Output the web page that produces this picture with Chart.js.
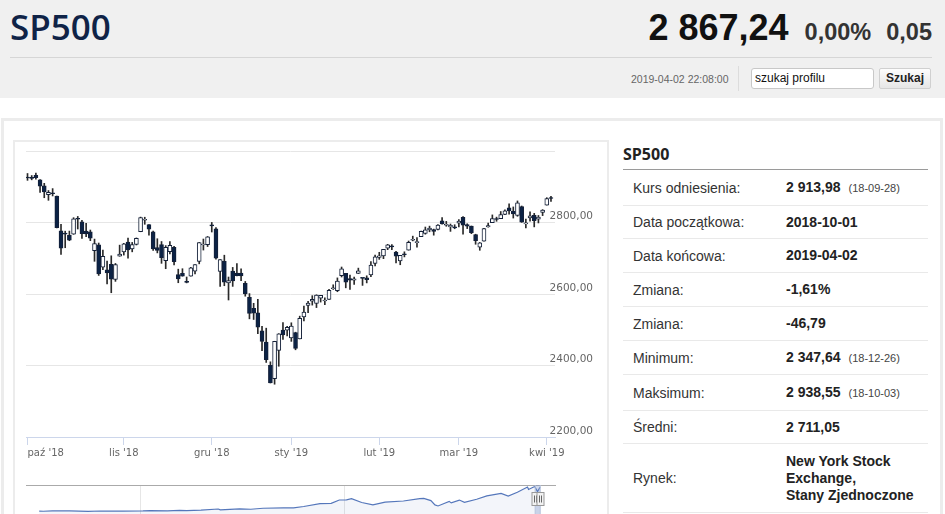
<!DOCTYPE html>
<html><head><meta charset="utf-8">
<script src="https://cdn.jsdelivr.net/npm/chart.js@4.4.0/dist/chart.umd.min.js"></script>
<style>
html,body{margin:0;padding:0;background:#fff;width:945px;height:514px;overflow:hidden;font-family:"Liberation Sans",Arial,sans-serif;}
#hdr{position:absolute;left:0;top:0;width:945px;height:98px;background:#f0f0f0;}
#title{position:absolute;left:10px;top:3px;font-family:"Open Sans";font-weight:600;font-size:35px;color:#0f2347;line-height:48px;}
#hline{position:absolute;left:10px;top:57px;width:922px;height:1px;background:#d6d6d6;}
#quote{position:absolute;right:13px;top:4px;display:flex;align-items:baseline;white-space:nowrap;line-height:48px;}
.big{font-weight:bold;font-size:36px;color:#111;}
.pct{font-weight:bold;font-size:23.5px;color:#333;margin-left:16px;}
.chg{font-weight:bold;font-size:23.5px;color:#333;margin-left:15px;}
#time{position:absolute;left:631px;top:73px;font-size:10.5px;color:#666;line-height:12px;}
#sep{position:absolute;left:738px;top:66px;width:1px;height:25px;background:#dcdcdc;}
#search{position:absolute;left:751px;top:68px;width:123px;height:21px;box-sizing:border-box;border:1px solid #c8c8c8;border-radius:3px;background:#fff;font-size:12px;padding-left:3px;line-height:19px;color:#111;}
#btn{position:absolute;left:879px;top:68px;width:52px;height:21px;box-sizing:border-box;border:1px solid #d0d0d0;border-radius:2px;background:linear-gradient(#fdfdfd,#e6e6e6);font-weight:bold;font-size:12px;text-align:center;line-height:19px;color:#222;}
#frame{position:absolute;left:1px;top:118px;width:936px;height:420px;border:3px solid #ececec;background:#fff;}
#chartbox{position:absolute;left:13px;top:140px;width:592px;height:400px;border:2px solid #ececec;}
canvas{position:absolute;}
#info{position:absolute;left:623px;top:141px;width:305px;}
#info .ttl{height:28px;border-bottom:1px solid #9a9a9a;font-family:"Open Sans";font-weight:bold;font-size:16px;color:#222;line-height:26px;}
.row{display:flex;align-items:center;box-sizing:border-box;border-bottom:1px solid #e9e9e9;font-size:14px;color:#333;}
.row .l{width:153px;padding-left:10px;}
.row .v{font-weight:bold;color:#222;line-height:17px;}
.row .s{font-size:11px;color:#444;margin-left:8px;font-weight:normal;}
</style></head>
<body>
<div id="hdr">
  <div id="title">SP500</div>
  <div id="quote"><span class="big">2 867,24</span><span class="pct">0,00%</span><span class="chg">0,05</span></div>
  <div id="hline"></div>
  <div id="time">2019-04-02 22:08:00</div>
  <div id="sep"></div>
  <div id="search">szukaj profilu</div>
  <div id="btn">Szukaj</div>
</div>
<div id="frame"></div>
<div id="chartbox"></div>
<canvas id="main" width="594" height="330" style="left:13px;top:141px;width:594px;height:330px"></canvas>
<canvas id="nav" width="594" height="50" style="left:13px;top:470px;width:594px;height:50px"></canvas>
<div id="info">
  <div class="ttl">SP500</div>
  <div class="row" style="height:36px"><span class="l">Kurs odniesienia:</span><span class="v">2 913,98<span class="s">(18-09-28)</span></span></div>
  <div class="row" style="height:33px"><span class="l">Data początkowa:</span><span class="v">2018-10-01</span></div>
  <div class="row" style="height:34px"><span class="l">Data końcowa:</span><span class="v">2019-04-02</span></div>
  <div class="row" style="height:34px"><span class="l">Zmiana:</span><span class="v">-1,61%</span></div>
  <div class="row" style="height:34px"><span class="l">Zmiana:</span><span class="v">-46,79</span></div>
  <div class="row" style="height:34px"><span class="l">Minimum:</span><span class="v">2 347,64<span class="s">(18-12-26)</span></span></div>
  <div class="row" style="height:36px"><span class="l">Maksimum:</span><span class="v">2 938,55<span class="s">(18-10-03)</span></span></div>
  <div class="row" style="height:33px"><span class="l">Średni:</span><span class="v">2 711,05</span></div>
  <div class="row" style="height:69px"><span class="l">Rynek:</span><span class="v">New York Stock<br>Exchange,<br>Stany Zjednoczone</span></div>
</div>
<script>
const dates = [
"2018-10-01","2018-10-02","2018-10-03","2018-10-04","2018-10-05","2018-10-08","2018-10-09","2018-10-10","2018-10-11","2018-10-12","2018-10-15","2018-10-16","2018-10-17","2018-10-18","2018-10-19","2018-10-22","2018-10-23","2018-10-24","2018-10-25","2018-10-26","2018-10-29","2018-10-30","2018-10-31",
"2018-11-01","2018-11-02","2018-11-05","2018-11-06","2018-11-07","2018-11-08","2018-11-09","2018-11-12","2018-11-13","2018-11-14","2018-11-15","2018-11-16","2018-11-19","2018-11-20","2018-11-21","2018-11-23","2018-11-26","2018-11-27","2018-11-28","2018-11-29","2018-11-30",
"2018-12-03","2018-12-04","2018-12-06","2018-12-07","2018-12-10","2018-12-11","2018-12-12","2018-12-13","2018-12-14","2018-12-17","2018-12-18","2018-12-19","2018-12-20","2018-12-21","2018-12-24","2018-12-26","2018-12-27","2018-12-28","2018-12-31",
"2019-01-02","2019-01-03","2019-01-04","2019-01-07","2019-01-08","2019-01-09","2019-01-10","2019-01-11","2019-01-14","2019-01-15","2019-01-16","2019-01-17","2019-01-18","2019-01-22","2019-01-23","2019-01-24","2019-01-25","2019-01-28","2019-01-29","2019-01-30","2019-01-31",
"2019-02-01","2019-02-04","2019-02-05","2019-02-06","2019-02-07","2019-02-08","2019-02-11","2019-02-12","2019-02-13","2019-02-14","2019-02-15","2019-02-19","2019-02-20","2019-02-21","2019-02-22","2019-02-25","2019-02-26","2019-02-27","2019-02-28",
"2019-03-01","2019-03-04","2019-03-05","2019-03-06","2019-03-07","2019-03-08","2019-03-11","2019-03-12","2019-03-13","2019-03-14","2019-03-15","2019-03-18","2019-03-19","2019-03-20","2019-03-21","2019-03-22","2019-03-25","2019-03-26","2019-03-27","2019-03-28","2019-03-29",
"2019-04-01","2019-04-02"];
const open = [
2926.29,2923.80,2931.69,2919.35,2902.54,2877.53,2882.51,2873.90,2776.87,2770.54,2763.83,2767.05,2811.67,2802.00,2775.66,2773.94,2721.03,2737.87,2674.88,2667.86,2682.65,2640.68,2705.60,
2717.58,2745.45,2726.37,2738.40,2774.13,2806.38,2794.10,2773.93,2730.05,2737.90,2693.52,2718.54,2730.74,2654.60,2657.74,2633.36,2649.97,2663.75,2691.45,2736.97,2737.76,
2790.50,2782.43,2663.51,2691.26,2630.86,2664.44,2658.23,2658.70,2629.68,2590.75,2559.90,2547.05,2496.77,2465.38,2400.56,2363.12,2442.50,2498.77,2498.94,
2476.96,2491.92,2474.33,2535.61,2568.11,2580.00,2573.51,2588.11,2580.31,2585.10,2614.75,2609.28,2651.27,2657.88,2643.48,2638.84,2657.44,2644.97,2644.89,2653.62,2685.49,
2702.32,2706.49,2728.34,2735.05,2717.53,2692.36,2712.40,2722.61,2750.30,2743.50,2760.24,2769.28,2779.05,2780.24,2780.67,2804.35,2792.36,2787.50,2788.11,
2798.22,2814.37,2794.41,2790.27,2766.53,2730.79,2747.61,2787.34,2799.78,2810.38,2810.79,2822.61,2840.76,2831.34,2819.72,2844.52,2796.01,2812.66,2819.72,2809.40,2828.27,
2848.63,2868.24];
const high = [
2937.06,2931.42,2938.55,2919.78,2909.64,2889.45,2894.83,2874.02,2795.14,2775.77,2775.99,2813.46,2816.94,2806.04,2797.77,2778.94,2753.59,2742.59,2722.70,2692.38,2706.85,2685.43,2736.69,
2741.67,2756.55,2744.27,2756.82,2815.15,2814.75,2794.10,2775.99,2754.60,2746.80,2735.38,2746.75,2733.16,2669.44,2670.73,2647.55,2674.35,2682.53,2744.00,2753.75,2760.88,
2800.18,2785.93,2696.15,2708.54,2647.51,2674.35,2685.44,2670.19,2635.07,2601.13,2573.99,2585.29,2509.63,2504.41,2410.34,2467.76,2489.10,2520.27,2509.24,
2519.49,2493.14,2538.07,2566.16,2579.82,2595.32,2597.82,2596.27,2589.32,2613.08,2625.76,2645.06,2675.47,2657.88,2653.19,2647.20,2672.38,2644.97,2650.93,2690.44,2708.95,
2716.66,2724.99,2738.98,2738.08,2719.32,2708.07,2718.05,2748.19,2761.85,2757.90,2775.66,2787.33,2789.88,2781.58,2794.20,2813.49,2803.12,2795.76,2793.73,
2808.02,2816.88,2796.44,2790.27,2767.25,2744.13,2784.00,2798.32,2821.24,2815.00,2830.73,2835.41,2852.42,2843.54,2860.31,2846.16,2809.79,2829.87,2825.56,2819.71,2836.03,
2869.40,2872.90];
const low = [
2917.91,2919.37,2921.36,2883.92,2869.29,2862.08,2874.27,2784.86,2710.51,2729.44,2749.03,2766.91,2781.81,2755.18,2760.27,2749.22,2691.43,2651.89,2667.84,2628.16,2603.54,2635.34,2705.60,
2708.85,2700.44,2717.94,2737.08,2774.13,2794.99,2764.24,2722.00,2714.98,2685.75,2670.75,2712.16,2681.09,2631.52,2649.82,2631.09,2649.97,2655.89,2684.38,2722.94,2732.76,
2773.38,2697.18,2621.53,2623.14,2583.23,2621.30,2650.26,2637.27,2593.84,2530.54,2528.71,2488.96,2441.18,2408.55,2351.10,2347.64,2397.94,2472.89,2482.82,
2467.47,2443.96,2474.33,2524.56,2547.56,2568.89,2562.02,2577.40,2570.41,2585.10,2612.68,2606.36,2647.58,2617.27,2612.86,2627.01,2657.33,2624.06,2631.05,2648.34,2678.65,
2696.88,2698.75,2724.03,2724.15,2687.26,2681.83,2703.79,2722.61,2748.63,2731.23,2760.24,2767.29,2774.06,2764.55,2779.11,2794.99,2789.47,2775.13,2782.51,
2787.38,2767.66,2782.97,2768.69,2739.09,2722.27,2747.61,2786.73,2799.78,2803.46,2810.79,2821.99,2823.27,2812.43,2817.38,2800.47,2785.02,2803.99,2787.72,2798.77,2819.23,
2848.63,2858.75];
const close = [
2924.59,2923.43,2925.51,2901.61,2885.57,2884.43,2880.34,2785.68,2728.37,2767.13,2750.79,2809.92,2809.21,2768.78,2767.78,2755.88,2740.69,2656.10,2705.57,2658.69,2641.25,2682.63,2711.74,
2740.37,2723.06,2738.31,2755.45,2813.89,2806.83,2781.01,2726.22,2722.18,2701.58,2730.20,2736.27,2690.73,2641.89,2649.93,2632.56,2673.45,2682.17,2743.79,2737.80,2760.17,
2790.37,2700.06,2695.95,2633.08,2637.72,2636.78,2651.07,2650.54,2599.95,2545.94,2546.16,2506.96,2467.42,2416.62,2351.10,2467.70,2488.83,2485.74,2506.85,
2510.03,2447.89,2531.94,2549.69,2574.41,2584.96,2596.64,2596.26,2582.61,2610.30,2616.10,2635.96,2670.71,2632.90,2638.70,2642.33,2664.76,2643.85,2640.00,2681.05,2704.10,
2706.53,2724.87,2737.70,2731.61,2706.05,2707.88,2709.80,2744.73,2753.03,2745.73,2775.60,2779.76,2784.70,2774.88,2792.67,2796.11,2793.90,2792.38,2784.49,
2803.69,2792.81,2789.65,2771.45,2748.93,2743.07,2783.30,2791.52,2810.92,2808.48,2822.48,2832.94,2832.57,2824.23,2854.88,2800.71,2798.36,2818.46,2805.37,2815.44,2834.40,
2867.19,2867.24];
const monthLabels = ["paź '18","lis '18","gru '18","sty '19","lut '19","mar '19","kwi '19"];
const monthStarts = ["2018-10-01","2018-11-01","2018-12-03","2019-01-02","2019-02-01","2019-03-01","2019-04-01"];
const yTicks = [2200,2400,2600,2800,3000];
const navYears  = [1970.0,1970.4,1971.3,1973.0,1974.8,1976.0,1978.2,1980.2,1980.9,1982.6,1983.8,1984.5,1985.9,1987.6,1987.8,1989.7,1990.8,1992.0,1994.0,1995.0,1996.0,1997.6,1998.7,1999.5,2000.2,2000.7,2001.7,2002.8,2004.0,2005.8,2007.4,2007.8,2008.5,2008.9,2009.2,2010.3,2010.5,2011.3,2011.8,2013.0,2014.0,2015.4,2016.1,2017.0,2018.0,2018.1,2018.7,2018.98,2019.25];
const navValues = [92,72,104,118,64,100,88,110,140,105,170,150,210,330,225,350,300,415,470,460,615,950,980,1370,1390,1520,1080,800,1130,1250,1530,1560,1300,800,680,1210,1030,1360,1100,1460,1840,2130,1830,2270,2870,2590,2930,2350,2867];
const navYearTicks = [1980, 2000];

const N = dates.length;
const bodyData = dates.map((d,i)=>({x:i, y:[open[i], close[i]]}));
const wickData = dates.map((d,i)=>({x:i, y:[low[i], high[i]]}));
const monthIdx = monthStarts.map(d=>dates.indexOf(d));
const xMin = -0.36, xMax = N - 1 + 0.96;
const LBL = {family:'DejaVu Sans', size:10};

new Chart(document.getElementById('main'), {
  type:'bar',
  data:{datasets:[
    {data:bodyData, grouped:false, barThickness:4, minBarLength:1, borderWidth:1, borderSkipped:false,
     borderColor:'#142038',
     backgroundColor:c=> close[c.dataIndex] >= open[c.dataIndex] ? '#ffffff' : '#0b2245', order:0},
    {data:wickData, grouped:false, barThickness:1, borderWidth:0, backgroundColor:'#2a2a2a', order:1}
  ]},
  options:{
    responsive:false, animation:false, events:[],
    layout:{padding:{left:13, right:7, top:10, bottom:0}},
    plugins:{legend:{display:false}, tooltip:{enabled:false}},
    scales:{
      x:{type:'linear', min:xMin, max:xMax, offset:false,
         afterBuildTicks:s=>{ s.ticks = monthIdx.map(v=>({value:v})).concat([{value:xMax}]); },
         ticks:{align:'inner', autoSkip:false, maxRotation:0, padding:2, color:'#666', font:LBL,
                callback:(v,i)=> i < monthLabels.length ? monthLabels[i] : ''},
         grid:{offset:false, drawOnChartArea:false, tickLength:8,
               tickColor:c=> c.index < monthLabels.length ? '#ccd6eb' : 'rgba(0,0,0,0)'},
         border:{color:'#ccd6eb', width:1},
         afterFit:s=>{ s.height = 34; }},
      y:{position:'right', min:2200, max:3000, beginAtZero:false,
         afterBuildTicks:s=>{ s.ticks = yTicks.map(v=>({value:v})); },
         ticks:{mirror:true, crossAlign:'near', padding:38, labelOffset:-6, color:'#666', font:{family:'DejaVu Sans', size:10.5},
                callback:v=> v === yTicks[yTicks.length-1] ? '' : v.toFixed(2).replace('.', ',')},
         grid:{color:'#e6e6e6', drawTicks:false},
         border:{display:false},
         afterFit:s=>{ s.width = 45; s.paddingTop = 0; s.paddingBottom = 0; }}
    }
  }
});

function toYear(d){ const t = new Date(d+'T00:00:00Z'); const y = t.getUTCFullYear();
  return y + (t - Date.UTC(y,0,1)) / (Date.UTC(y+1,0,1) - Date.UTC(y,0,1)); }

const navMask = {id:'navMask', afterDatasetsDraw(chart){
  const {ctx, chartArea:a, scales:{x}} = chart;
  const x0 = x.getPixelForValue(toYear(dates[0])), x1 = x.getPixelForValue(toYear(dates[N-1]));
  ctx.save();
  ctx.fillStyle = 'rgba(102,133,194,0.3)';
  ctx.fillRect(x0, a.top, x1 - x0, a.bottom - a.top);
  ctx.strokeStyle = '#b8c4dc'; ctx.lineWidth = 1;
  ctx.beginPath(); ctx.moveTo(x0, a.top); ctx.lineTo(x0, a.bottom); ctx.moveTo(x1, a.top); ctx.lineTo(x1, a.bottom); ctx.stroke();
  [x0, x1].forEach(px=>{
    const cx = Math.round(px) + 0.5, t = a.top + 7.5;
    ctx.fillStyle = '#f2f2f2'; ctx.strokeStyle = '#999';
    ctx.fillRect(cx - 3.5, t, 7, 13); ctx.strokeRect(cx - 3.5, t, 7, 13);
    ctx.strokeStyle = '#666';
    ctx.beginPath(); ctx.moveTo(cx - 1, t + 3); ctx.lineTo(cx - 1, t + 10); ctx.moveTo(cx + 1, t + 3); ctx.lineTo(cx + 1, t + 10); ctx.stroke();
  });
  ctx.restore();
}};

new Chart(document.getElementById('nav'), {
  type:'line',
  data:{datasets:[{data:navYears.map((y,i)=>({x:y, y:navValues[i]})), borderColor:'#5577bb', borderWidth:1.2,
        backgroundColor:'rgba(51,92,173,0.06)', fill:'start', pointRadius:0, tension:0}]},
  options:{
    responsive:false, animation:false, events:[],
    layout:{padding:{left:13, right:52, top:15, bottom:0}},
    plugins:{legend:{display:false}, tooltip:{enabled:false}},
    scales:{
      x:{type:'linear', min:1968.7, max:2020.7,
         afterBuildTicks:s=>{ s.ticks = navYearTicks.map(v=>({value:v})); },
         ticks:{align:'start', padding:-19, labelOffset:4, color:'#999', font:LBL, callback:v=>String(v)},
         grid:{color:'#e6e6e6', drawTicks:false}, border:{display:false},
         afterFit:s=>{ s.height = 0; }},
      x2:{type:'linear', position:'top', min:1968.7, max:2020.7,
          ticks:{display:false}, grid:{display:false}, border:{color:'#aaaaaa', width:1},
          afterFit:s=>{ s.height = 0; }},
      y:{display:false, min:-940, max:3100}
    }
  },
  plugins:[navMask]
});
</script>
</body></html>
